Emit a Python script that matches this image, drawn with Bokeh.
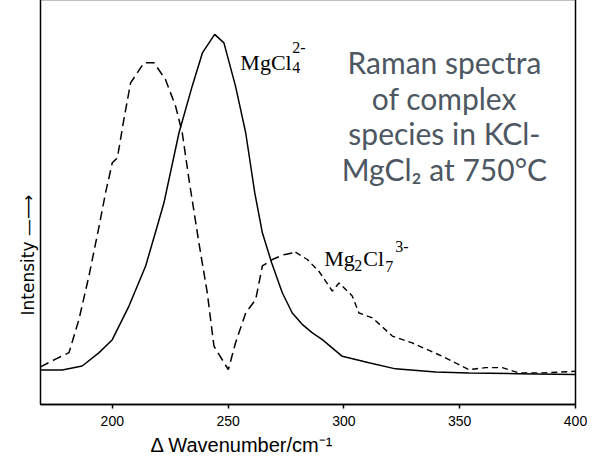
from bokeh.plotting import figure
from bokeh.models import Range1d, FixedTicker, Label, Title
from bokeh.embed import file_html
from bokeh.resources import INLINE

# Raman spectra (wavenumber / cm-1, relative intensity 0-100)
mgcl4_x = [169.0, 178.4, 187.0, 194.3, 200.0, 207.2, 214.4, 219.4, 222.3, 228.8,
           234.5, 238.9, 244.2, 248.2, 253.2, 257.6, 261.5, 264.8, 268.8, 273.4,
           277.7, 282.0, 286.4, 290.7, 299.3, 310.8, 322.3, 339.6, 354.0, 375.0, 400.0]
mgcl4_y = [8.5, 8.5, 9.5, 12.8, 16.0, 24.3, 34.2, 44.0, 49.8, 67.1,
           78.6, 86.8, 91.4, 89.3, 78.6, 67.1, 52.3, 42.4, 35.0, 27.6,
           22.6, 19.8, 17.7, 16.0, 11.9, 10.3, 8.8, 8.0, 7.8, 7.6, 7.4]

mg2cl7_x = [169.0, 175.5, 181.3, 185.6, 189.9, 194.3, 197.1, 200.0, 202.2, 205.0,
            207.9, 213.7, 218.0, 223.0, 227.3, 230.2, 233.1, 237.4, 241.0, 243.9,
            250.1, 253.2, 257.6, 261.9, 264.8, 269.1, 274.1, 279.1, 284.2, 289.2,
            295.0, 297.9, 303.6, 306.5, 312.3, 320.9, 329.5, 342.5, 354.0, 361.2,
            368.4, 375.6, 385.7, 400.0]
mg2cl7_y = [9.3, 11.2, 12.8, 21.0, 31.7, 44.0, 52.3, 59.7, 60.9, 70.4,
            79.4, 84.4, 84.4, 80.2, 73.7, 67.1, 55.6, 39.9, 27.6, 14.4,
            8.6, 15.2, 22.6, 25.9, 34.2, 35.8, 37.0, 37.6, 35.8, 32.9,
            28.0, 30.0, 26.8, 22.6, 21.4, 16.9, 15.2, 11.9, 8.6, 9.1,
            9.1, 7.8, 7.8, 8.2]

x_ticks = [200, 250, 300, 350, 400]
title_lines = ["Raman spectra", "of complex", "species in KCl-", "MgCl\u2082 at 750\u00b0C"]
x_label = "\u0394 Wavenumber/cm\u207b\u00b9"
y_label = "Intensity  \u2014\u27f6"

p = figure(width=590, height=464, x_range=Range1d(169, 400), y_range=Range1d(0, 100),
           output_backend="svg", toolbar_location=None,
           min_border_left=40, min_border_right=15, min_border_top=1, min_border_bottom=58,
           styles={"margin-top": "-2px", "margin-bottom": "-14px"})
p.background_fill_color = "white"
p.border_fill_color = "white"
p.xgrid.visible = False
p.ygrid.visible = False
p.yaxis.visible = False
p.outline_line_color = "black"
p.outline_line_width = 1.5
p.outline_line_alpha = 1.0

ax = p.xaxis[0]
ax.ticker = FixedTicker(ticks=x_ticks)
ax.minor_tick_line_color = None
ax.major_tick_in = 0
ax.major_tick_out = 4
ax.major_tick_line_width = 1.5
ax.axis_line_width = 1.5
ax.axis_line_color = "black"
ax.major_label_text_font = "Liberation Sans"
ax.major_label_text_font_size = "14px"
ax.major_label_text_color = "black"
ax.major_label_standoff = 7

p.add_layout(Title(text=x_label, align="left", offset=110, standoff=6,
                   text_font="Liberation Sans", text_font_size="20px",
                   text_font_style="normal", text_color="black"), "below")
p.add_layout(Title(text=y_label, align="left", offset=89, standoff=6,
                   text_font="DejaVu Sans", text_font_size="17px",
                   text_font_style="normal", text_color="black"), "left")

split = 27
p.line(mgcl4_x, mgcl4_y, line_color="black", line_width=1.5)
p.line(mg2cl7_x[:split + 1], mg2cl7_y[:split + 1], line_color="black", line_width=1.5, line_dash="9 5")
p.line(mg2cl7_x[split:], mg2cl7_y[split:], line_color="black", line_width=1.4, line_dash="6 4")

def lab(x, y, text, font, size, align="left", color="black"):
    p.add_layout(Label(x=x, y=y, text=text, text_font=font, text_font_size=size,
                       text_align=align, text_baseline="alphabetic", text_color=color))

serif = "Liberation Serif"
# MgCl4 2-
lab(255.3, 84.4, "MgCl", serif, "22px")
lab(277.7, 83.1, "4", serif, "16px")
lab(277.7, 88.1, "2-", serif, "16px")
# Mg2Cl7 3-
lab(291.5, 36.0, "Mg", serif, "22px")
lab(304.5, 34.2, "2", serif, "16px")
lab(308.4, 36.0, "Cl", serif, "22px")
lab(317.9, 34.0, "7", serif, "16px")
lab(322.2, 39.0, "3-", serif, "16px")

# annotation text block
for i, t in enumerate(title_lines):
    lab(343.4, 84.6 - i * 8.8, t, "Lato", "30px", align="center", color="#4D5761")

open("out.html", "w").write(file_html(p, INLINE))
